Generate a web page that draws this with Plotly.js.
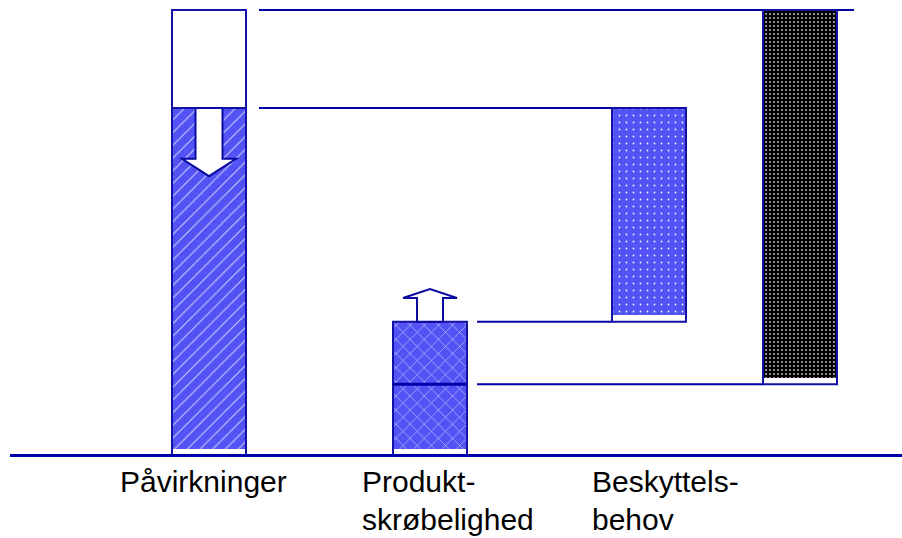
<!DOCTYPE html>
<html>
<head>
<meta charset="utf-8">
<script src="https://cdn.plot.ly/plotly-3.0.1.min.js"></script>
<style>
  html, body { margin: 0; padding: 0; background: #ffffff; }
  #chart { width: 902px; height: 538px; }
</style>
</head>
<body>
<div id="chart"></div>
<script>
// ---------- DATA ----------
const categories = ['Påvirkninger', 'Produkt-<br>skrøbelighed', 'Beskyttels-<br>behov'];
const stages = ['før', 'efter'];                 // before / after improvement
const pavirkninger = [100, 78];                  // impacts: before, after (reduced)
const skrobelighed = [16, 30];                   // product robustness level: before, after (improved)
const beskyttelsesbehov = pavirkninger.map((p, i) => p - skrobelighed[i]); // protection need

// ---------- LAYOUT CONSTANTS (positions / styles) ----------
const barX = [209, 430, 649, 800];     // centres of the four columns (x axis units = px)
const barW = 74;
const labelX = [118, 360, 590];
const labelY = -1.7;                   // top of first label line (y units)
const labelStep = 8.42;                // line spacing (y units)
const STRIP = 1.5;                     // white strip at the bottom of patterned bars
const BLUE = '#5252f5';
const EDGE = '#1212a6';
const LINE = '#0000aa';

const outline = { color: EDGE, width: 2 };
const noLine = { width: 0 };

function patternBar(x, base, top, pattern, color, strip) {
  const b = base + (strip ? STRIP : 0);
  return {
    type: 'bar', x: [x], base: [b], y: [top - b], width: barW,
    marker: { color: color, line: noLine, pattern: pattern },
    hoverinfo: 'skip', showlegend: false
  };
}
function outlineBar(x, base, top, fill) {
  return {
    type: 'bar', x: [x], base: [base], y: [top - base], width: barW,
    marker: { color: fill || 'rgba(0,0,0,0)', line: outline },
    hoverinfo: 'skip', showlegend: false
  };
}

const hatch = { shape: '/', fillmode: 'overlay', bgcolor: BLUE, fgcolor: '#ffffff', fgopacity: 0.7, size: 9, solidity: 0.12 };
const cross = { shape: 'x', fillmode: 'overlay', bgcolor: BLUE, fgcolor: '#ffffff', fgopacity: 0.65, size: 10, solidity: 0.13 };
const dotsBlue = { shape: '.', fillmode: 'overlay', bgcolor: BLUE, fgcolor: '#ffffff', fgopacity: 0.95, size: 7, solidity: 0.05 };
const dotsBlack = { shape: '.', fillmode: 'overlay', bgcolor: '#000000', fgcolor: '#b8b8b8', fgopacity: 1, size: 4, solidity: 0.2 };

const traces = [
  // Påvirkninger: reduced part hatched, removed part white
  patternBar(barX[0], 0, pavirkninger[1], hatch, BLUE, true),
  outlineBar(barX[0], 0, pavirkninger[1]),
  outlineBar(barX[0], pavirkninger[1], pavirkninger[0], '#ffffff'),
  // Produktskrøbelighed: original + improvement
  patternBar(barX[1], 0, skrobelighed[0], cross, BLUE, true),
  patternBar(barX[1], skrobelighed[0], skrobelighed[1], cross, BLUE, false),
  outlineBar(barX[1], 0, skrobelighed[1]),
  // Beskyttelsesbehov after improvement
  patternBar(barX[2], skrobelighed[1], pavirkninger[1], dotsBlue, BLUE, true),
  outlineBar(barX[2], skrobelighed[1], pavirkninger[1]),
  // Beskyttelsesbehov before improvement
  patternBar(barX[3], skrobelighed[0], pavirkninger[0], dotsBlack, '#000000', true),
  outlineBar(barX[3], skrobelighed[0], pavirkninger[0])
];

// ---------- SHAPES derived from data ----------
const half = barW / 2;
function hline(y, x0, x1, w, layer) {
  return { type: 'line', xref: 'x', yref: 'y', x0: x0, x1: x1, y0: y, y1: y,
           line: { color: LINE, width: w || 2 }, layer: layer || 'below' };
}
function arrow(cx, y0, dir, shaftLen, headLen, sh, hh) {
  const yHead = y0 + dir * shaftLen, yTip = yHead + dir * headLen;
  const p = `M${cx - sh},${y0} L${cx - sh},${yHead} L${cx - hh},${yHead} L${cx},${yTip} ` +
            `L${cx + hh},${yHead} L${cx + sh},${yHead} L${cx + sh},${y0} Z`;
  return { type: 'path', xref: 'x', yref: 'y', path: p, fillcolor: '#ffffff',
           line: { color: '#0a0aa0', width: 2 }, layer: 'above' };
}

const shapes = [
  hline(0, 10, 902, 3, 'above'),
  hline(pavirkninger[0], barX[0] + half + 13, barX[3] + half + 17),
  hline(pavirkninger[1], barX[0] + half + 13, barX[2] - half),
  hline(skrobelighed[1], barX[1] + half + 10, barX[2] - half),
  hline(skrobelighed[0], barX[1] + half + 10, barX[3] - half),
  // boundary between original and improved robustness
  hline(skrobelighed[0], barX[1] - half, barX[1] + half, 3, 'above'),
  arrow(barX[0], pavirkninger[1], -1, 11.4, 3.9, 13.5, 27),
  arrow(barX[1], skrobelighed[1], 1, 5.35, 2.0, 13, 27)
];

const annotations = [];
categories.forEach((c, i) => {
  c.split('<br>').forEach((line, j) => {
    annotations.push({
      text: line, x: labelX[i], y: labelY - j * labelStep, xref: 'x', yref: 'y',
      xanchor: 'left', yanchor: 'top', align: 'left', showarrow: false,
      font: { family: 'Liberation Sans, Arial, sans-serif', size: 30, color: '#000000' }
    });
  });
});

const layout = {
  width: 902, height: 538,
  margin: { l: 0, r: 0, t: 0, b: 0 },
  paper_bgcolor: '#ffffff', plot_bgcolor: '#ffffff',
  barmode: 'overlay', bargap: 0,
  xaxis: { range: [0, 902], visible: false, fixedrange: true },
  yaxis: { range: [-18.52, 102.25], visible: false, fixedrange: true },
  shapes: shapes, annotations: annotations,
  showlegend: false
};

Plotly.newPlot('chart', traces, layout, { displayModeBar: false, staticPlot: true });
</script>
</body>
</html>
